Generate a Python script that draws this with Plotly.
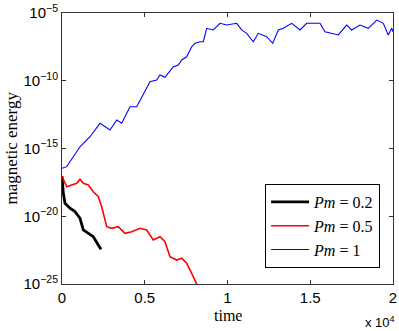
import plotly.graph_objects as go

# time values and log10(magnetic energy)
t_02 = [0, 79, 181, 483, 785, 1088, 1287, 1589, 1891, 2193, 2357]
log_e_02 = [-17.03, -18.31, -19.04, -19.41, -19.66, -20.15, -21.01, -21.26, -21.51, -22.12, -22.44]

t_05 = [0, 284, 586, 888, 1088, 1287, 1589, 1891, 2193, 2399, 2701, 3003, 3402, 3806,
        4211, 4713, 5118, 5516, 5921, 6223, 6525, 6930, 7232, 7534, 7836, 8139, 8217]
log_e_05 = [-17.03, -17.82, -17.69, -17.57, -17.27, -17.57, -17.69, -18.19, -18.56, -19.30,
            -20.77, -20.89, -20.77, -21.26, -21.14, -20.89, -21.01, -21.75, -21.51, -21.88,
            -22.99, -23.23, -23.10, -23.47, -24.21, -24.95, -25.2]

t_1 = [0, 284, 683, 1088, 1692, 2296, 2900, 3305, 3607, 4109, 4513, 4815, 5317, 5722,
       5921, 6223, 6725, 7027, 7232, 7534, 7836, 8036, 8338, 8537, 8743, 9142, 9546, 9951,
       10555, 10857, 11160, 11558, 11860, 12368, 12731, 13069, 13371, 13879, 14380, 14785,
       15588, 15890, 16392, 16694, 17201, 17504, 18005, 18506, 19014, 19413, 19715, 19920, 20000]
log_e_1 = [-16.46, -16.34, -15.61, -14.87, -14.13, -13.14, -13.63, -12.90, -13.14, -11.92,
           -11.92, -11.18, -10.07, -9.94, -9.58, -9.75, -8.96, -8.84, -8.47, -8.23, -7.49,
           -7.24, -7.12, -7.12, -6.13, -6.25, -5.76, -5.89, -5.76, -6.25, -6.50, -7.12, -6.50,
           -6.75, -7.24, -6.25, -6.13, -5.76, -6.25, -5.76, -5.76, -6.38, -6.50, -6.62, -5.89,
           -6.25, -5.89, -6.13, -5.52, -5.76, -6.62, -6.13, -6.38]

x_ticks = [0, 5000, 10000, 15000, 20000]
x_tick_text = ["0", "0.5", "1", "1.5", "2"]
y_ticks = [1e-25, 1e-20, 1e-15, 1e-10, 1e-5]
y_tick_text = ["10<sup>\u221225</sup>", "10<sup>\u221220</sup>", "10<sup>\u221215</sup>",
               "10<sup>\u221210</sup>", "10<sup>\u22125</sup>"]

fig = go.Figure()
fig.add_trace(go.Scatter(x=t_02, y=[10 ** v for v in log_e_02], mode="lines",
                         line=dict(color="black", width=2.8), name="<i>Pm</i> = 0.2"))
fig.add_trace(go.Scatter(x=t_05, y=[10 ** v for v in log_e_05], mode="lines",
                         line=dict(color="red", width=1.6), name="<i>Pm</i> = 0.5"))
fig.add_trace(go.Scatter(x=t_1, y=[10 ** v for v in log_e_1], mode="lines",
                         line=dict(color="blue", width=1.1), name="<i>Pm</i> = 1"))

axis_common = dict(showgrid=False, zeroline=False, ticks="inside", ticklen=4,
                   showline=True, linecolor="#333333", linewidth=1, mirror="ticks",
                   tickcolor="#333333", automargin=False,
                   tickfont=dict(family="Liberation Sans, Arial", size=15, color="black"))

fig.update_layout(
    width=399, height=331,
    margin=dict(l=62, r=6, t=13, b=47),
    plot_bgcolor="white", paper_bgcolor="white",
    xaxis=dict(range=[0, 20000], tickvals=x_ticks, ticktext=x_tick_text, **axis_common),
    yaxis=dict(type="log", range=[-25, -5], tickvals=y_ticks, ticktext=y_tick_text, **axis_common),
    legend=dict(x=0.961, y=0.059, xanchor="right", yanchor="bottom",
                bordercolor="black", borderwidth=1, bgcolor="white",
                font=dict(family="Liberation Serif, DejaVu Serif", size=16, color="black"),
                itemwidth=38, tracegroupgap=0),
    annotations=[
        dict(text="time", xref="paper", yref="paper", x=0.5, y=-0.118, yanchor="middle",
             showarrow=False, font=dict(family="Liberation Serif", size=16, color="black")),
        dict(text="magnetic energy", xref="paper", yref="paper", x=-0.154, y=0.5,
             xanchor="center", yanchor="middle", textangle=-90, showarrow=False,
             font=dict(family="Liberation Serif", size=17, color="black")),
        dict(text="x 10<sup>4</sup>", xref="paper", yref="paper", x=1.012, y=-0.142,
             xanchor="right", yanchor="middle", showarrow=False,
             font=dict(family="Liberation Sans", size=13, color="black")),
    ],
)

fig.write_html("out.html", config={"displayModeBar": False},
               post_script="document.body.style.margin='0';")
